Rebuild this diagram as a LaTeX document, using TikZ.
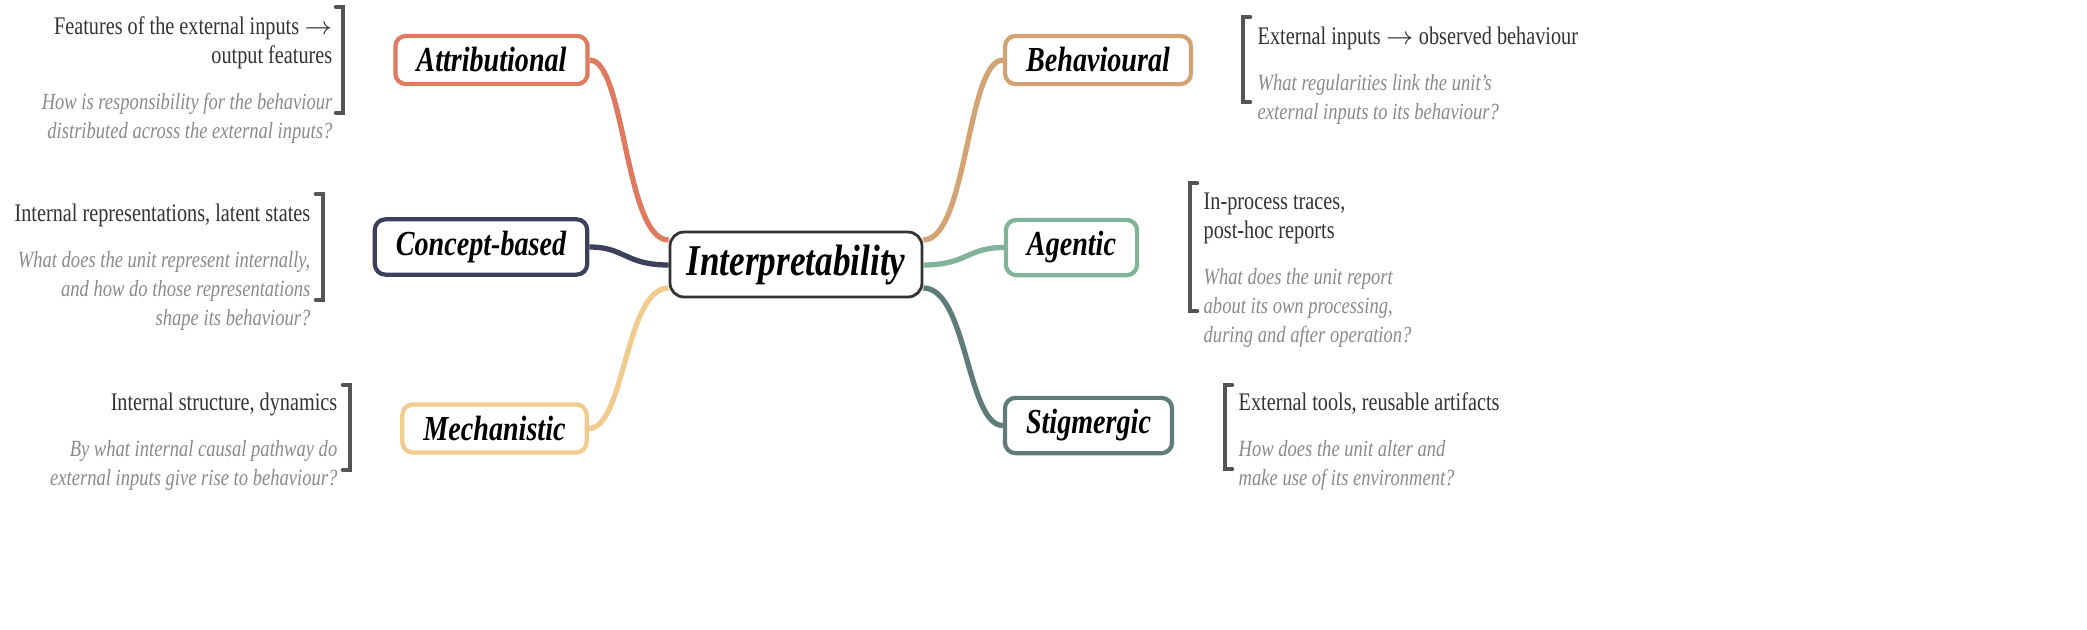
\documentclass[tikz,border=0pt]{standalone}
\usepackage{fontspec}
\setmainfont[FakeStretch=0.8]{Liberation Serif}
\usetikzlibrary{positioning}
\usetikzlibrary{calc}

\definecolor{attcol}{HTML}{E07A5F}
\definecolor{concol}{HTML}{3D405B}
\definecolor{meccol}{HTML}{F2CC8F}
\definecolor{behcol}{HTML}{D4A373}
\definecolor{agtcol}{HTML}{81B29A}
\definecolor{sticol}{HTML}{5F7C78}
\definecolor{maintxt}{HTML}{333333}
\definecolor{questxt}{HTML}{8A8A8A}
\definecolor{brackcol}{HTML}{555555}

\newcommand{\qln}[1]{{\fontsize{6.6}{8}\selectfont\itshape\color{questxt}#1}}

\tikzset{
  lens/.style={draw=#1, line width=1.2pt, rounded corners=3pt, fill=white,
    minimum height=0.41cm, inner xsep=6pt,
    font=\fontsize{10}{12}\selectfont\bfseries\itshape},
  branch/.style={draw=#1, line width=1.5pt},
  info/.style={text=maintxt, font=\fontsize{7.2}{8.2}\selectfont, inner sep=0pt},
  brack/.style={draw=brackcol, line width=1.3pt, line cap=round}
}

\begin{document}
\begin{tikzpicture}
\useasboundingbox (0,0) rectangle (20.87,-6.29);

%centre
\node[draw=black!80, line width=0.8pt, rounded corners=4pt, fill=white,
  minimum width=2.52cm, minimum height=0.65cm,
  font=\fontsize{12.5}{15}\selectfont\bfseries\itshape] (cen) at (7.96,-2.645) {Interpretability};

%lenses
\node[lens=attcol] (att) at (4.915,-0.60) {Attributional};
\node[lens=concol] (con) at (4.81,-2.47) {Concept-based};
\node[lens=meccol] (mec) at (4.945,-4.285) {Mechanistic};
\node[lens=behcol] (beh) at (10.98,-0.60) {Behavioural};
\node[lens=agtcol] (agt) at (10.715,-2.475) {Agentic};
\node[lens=sticol] (sti) at (10.885,-4.255) {Stigmergic};

%branches
\draw[branch=attcol] (cen.west |- 0,-2.40) .. controls (6.25,-2.40) and (6.25,-0.60) .. (att.east);
\draw[branch=concol] (cen.west |- 0,-2.65) .. controls (6.25,-2.65) and (6.25,-2.47) .. (con.east);
\draw[branch=meccol] (cen.west |- 0,-2.88) .. controls (6.25,-2.88) and (6.25,-4.285) .. (mec.east);
\draw[branch=behcol] (cen.east |- 0,-2.40) .. controls (9.67,-2.40) and (9.67,-0.60) .. (beh.west);
\draw[branch=agtcol] (cen.east |- 0,-2.65) .. controls (9.67,-2.65) and (9.67,-2.475) .. (agt.west);
\draw[branch=sticol] (cen.east |- 0,-2.88) .. controls (9.67,-2.88) and (9.67,-4.255) .. (sti.west);

%left notes
\node[info, align=right, anchor=north east] (attT) at (3.33,-0.16)
  {Features of the external inputs $\rightarrow$\\output features\\[5pt]
   \qln{How is responsibility for the behaviour}\\\qln{distributed across the external inputs?}};
\node[info, align=right, anchor=north east] (conT) at (3.11,-2.03)
  {Internal representations, latent states\\[5pt]
   \qln{What does the unit represent internally,}\\\qln{and how do those representations}\\\qln{shape its behaviour?}};
\node[info, align=right, anchor=north east] (mecT) at (3.38,-3.92)
  {Internal structure, dynamics\\[5pt]
   \qln{By what internal causal pathway do}\\\qln{external inputs give rise to behaviour?}};

%right notes
\node[info, align=left, anchor=north west] (behT) at (12.57,-0.26)
  {External inputs $\rightarrow$ observed behaviour\\[5pt]
   \qln{What regularities link the unit's}\\\qln{external inputs to its behaviour?}};
\node[info, align=left, anchor=north west] (agtT) at (12.03,-1.92)
  {In-process traces,\\post-hoc reports\\[5pt]
   \qln{What does the unit report}\\\qln{about its own processing,}\\\qln{during and after operation?}};
\node[info, align=left, anchor=north west] (stiT) at (12.38,-3.92)
  {External tools, reusable artifacts\\[5pt]
   \qln{How does the unit alter and}\\\qln{make use of its environment?}};

%brackets
\draw[brack] (3.36,-0.07) -- (3.43,-0.07) -- (3.43,-1.13) -- (3.36,-1.13);
\draw[brack] (3.16,-1.94) -- (3.23,-1.94) -- (3.23,-3.00) -- (3.16,-3.00);
\draw[brack] (3.43,-3.85) -- (3.50,-3.85) -- (3.50,-4.70) -- (3.43,-4.70);
\draw[brack] (12.50,-0.17) -- (12.43,-0.17) -- (12.43,-1.02) -- (12.50,-1.02);
\draw[brack] (11.97,-1.83) -- (11.90,-1.83) -- (11.90,-3.11) -- (11.97,-3.11);
\draw[brack] (12.32,-3.85) -- (12.25,-3.85) -- (12.25,-4.69) -- (12.32,-4.69);
\end{tikzpicture}
\end{document}
